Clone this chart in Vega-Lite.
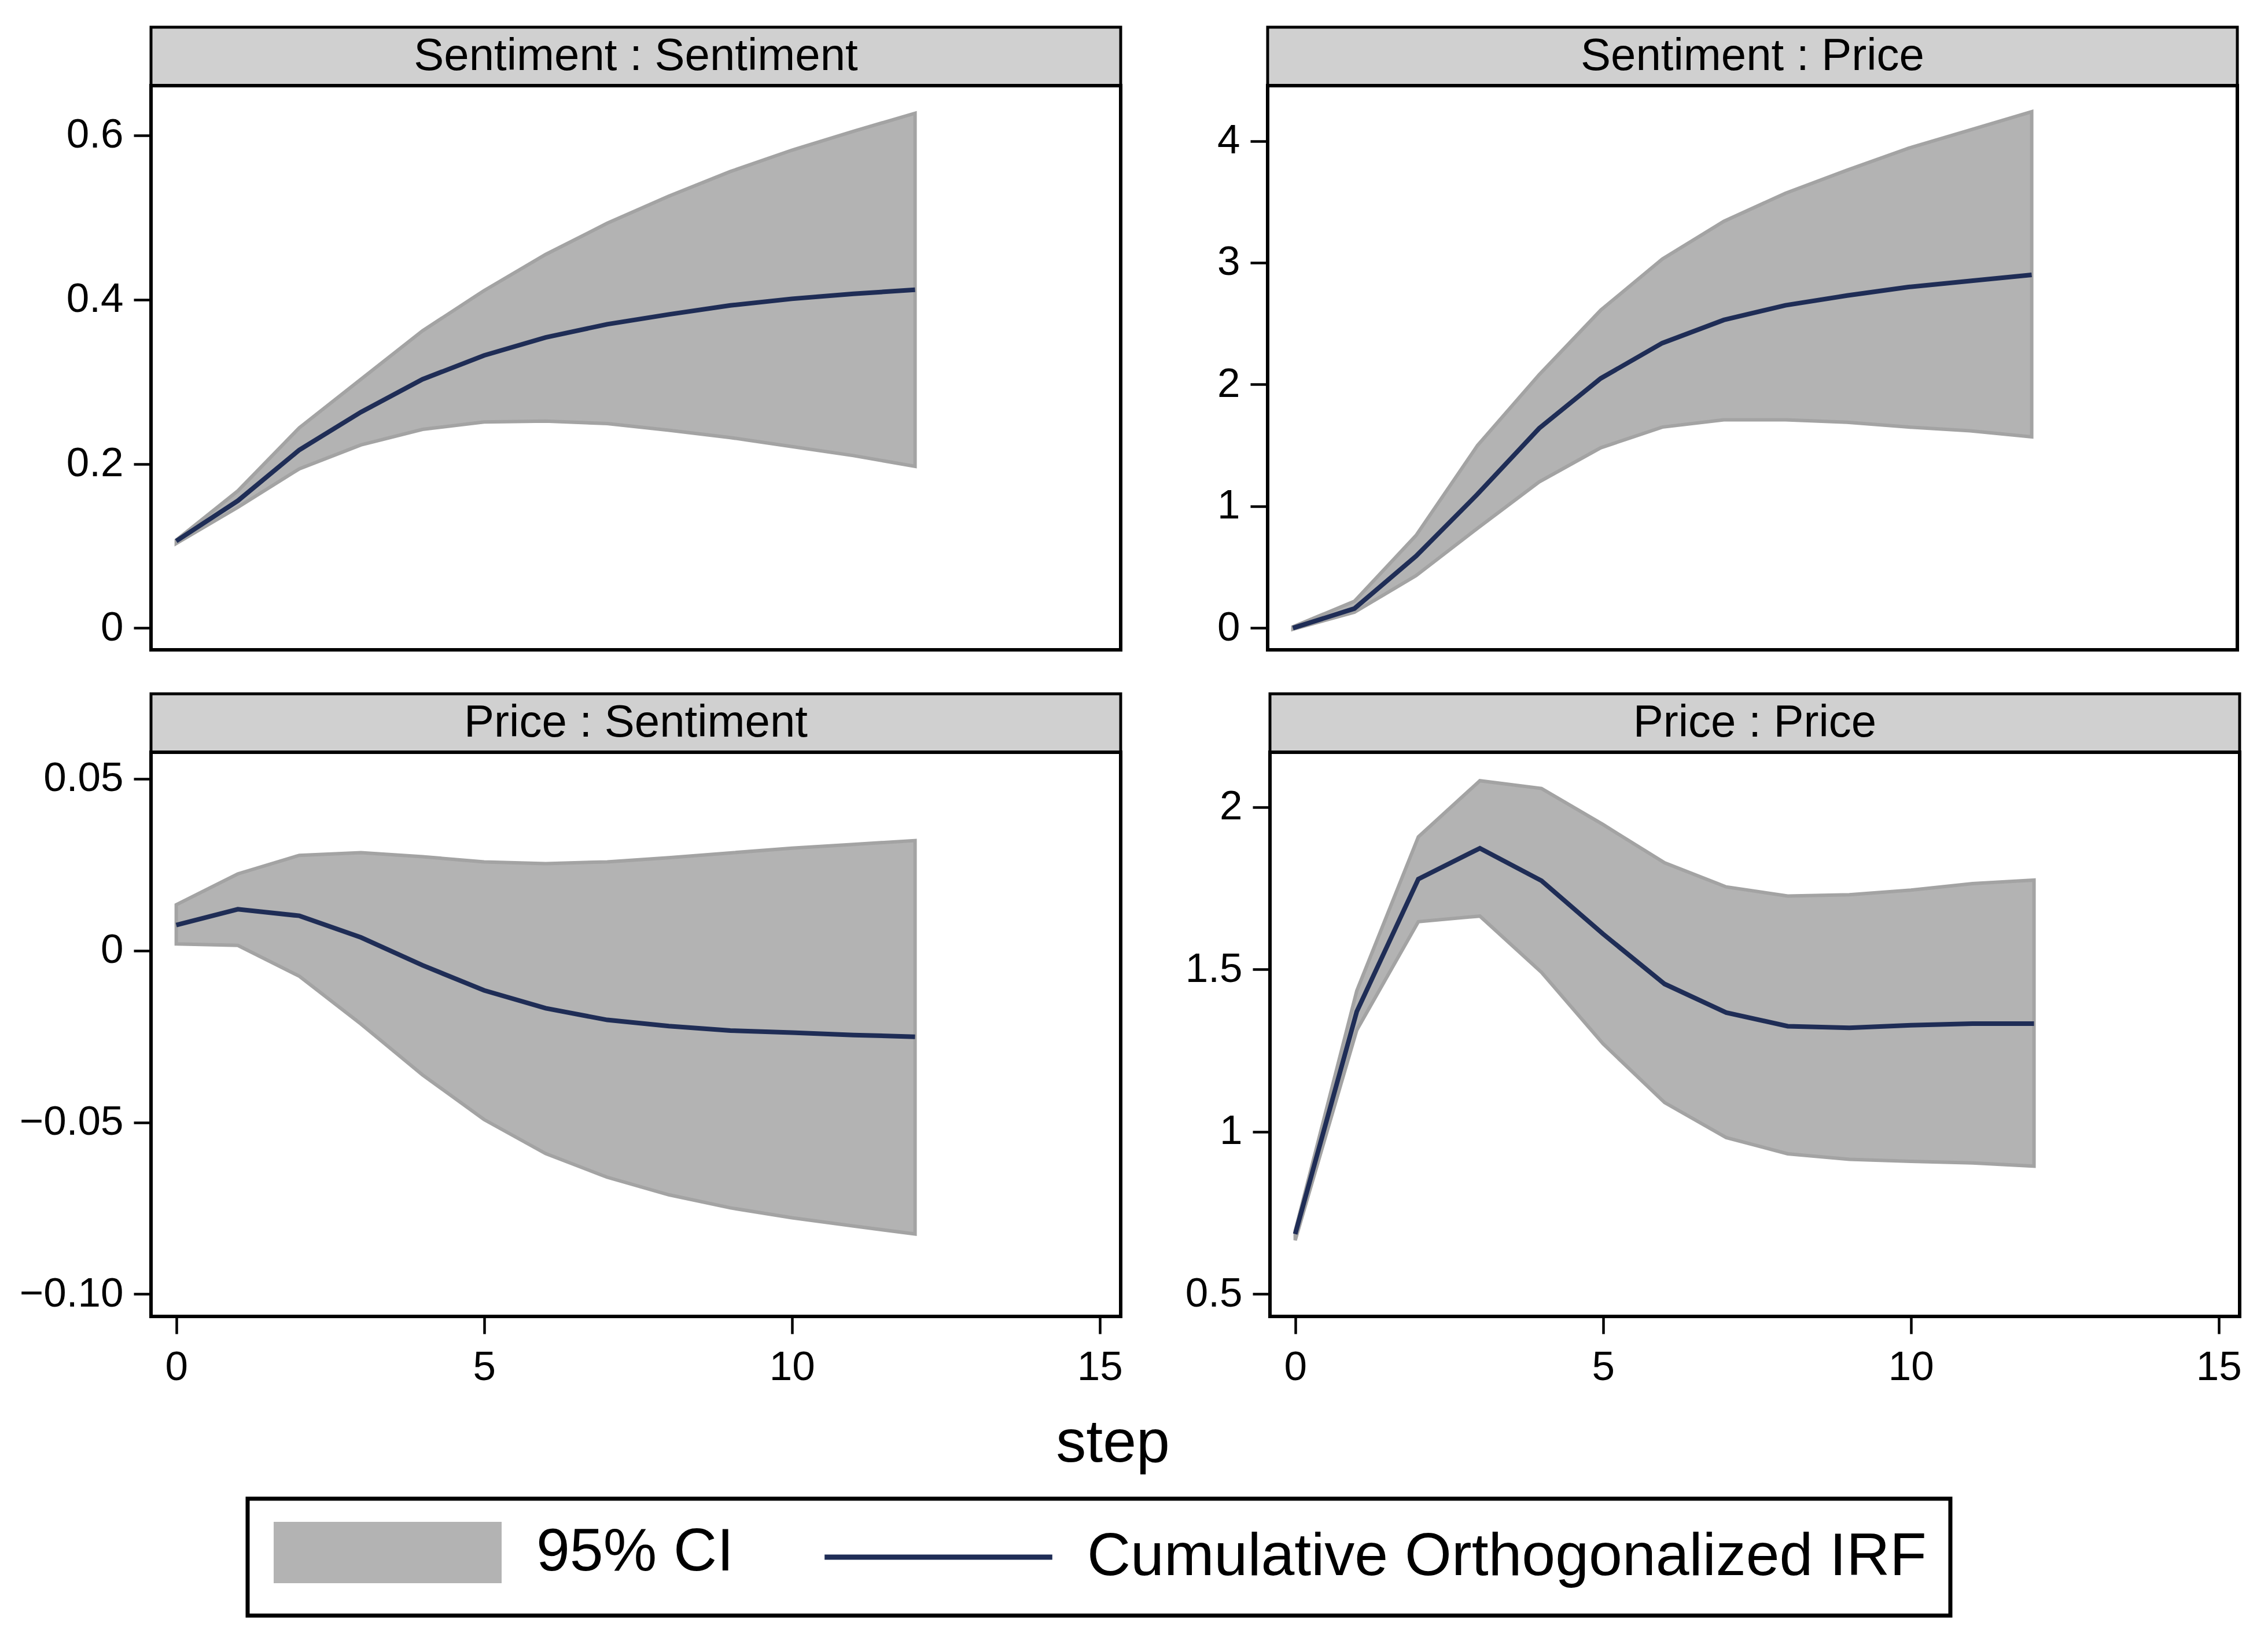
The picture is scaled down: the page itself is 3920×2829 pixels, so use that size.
{
  "$schema": "https://vega.github.io/schema/vega-lite/v6.json",
  "padding": {"left": 26, "top": 44, "right": 10, "bottom": 10},
  "background": "white",
  "datasets": {
    "irf": [
      {"panel": "SS", "step": 0, "irf": 0.106, "lo": 0.103, "hi": 0.107},
      {"panel": "SS", "step": 1, "irf": 0.155, "lo": 0.147, "hi": 0.167},
      {"panel": "SS", "step": 2, "irf": 0.217, "lo": 0.194, "hi": 0.244},
      {"panel": "SS", "step": 3, "irf": 0.263, "lo": 0.223, "hi": 0.303},
      {"panel": "SS", "step": 4, "irf": 0.303, "lo": 0.242, "hi": 0.362},
      {"panel": "SS", "step": 5, "irf": 0.332, "lo": 0.251, "hi": 0.411},
      {"panel": "SS", "step": 6, "irf": 0.354, "lo": 0.252, "hi": 0.455},
      {"panel": "SS", "step": 7, "irf": 0.370, "lo": 0.249, "hi": 0.493},
      {"panel": "SS", "step": 8, "irf": 0.382, "lo": 0.241, "hi": 0.526},
      {"panel": "SS", "step": 9, "irf": 0.393, "lo": 0.232, "hi": 0.556},
      {"panel": "SS", "step": 10, "irf": 0.401, "lo": 0.221, "hi": 0.582},
      {"panel": "SS", "step": 11, "irf": 0.407, "lo": 0.210, "hi": 0.605},
      {"panel": "SS", "step": 12, "irf": 0.412, "lo": 0.197, "hi": 0.627},
      {"panel": "SP", "step": 0, "irf": 0.0, "lo": -0.01, "hi": 0.01},
      {"panel": "SP", "step": 1, "irf": 0.16, "lo": 0.13, "hi": 0.22},
      {"panel": "SP", "step": 2, "irf": 0.59, "lo": 0.43, "hi": 0.76},
      {"panel": "SP", "step": 3, "irf": 1.10, "lo": 0.82, "hi": 1.50},
      {"panel": "SP", "step": 4, "irf": 1.64, "lo": 1.20, "hi": 2.08},
      {"panel": "SP", "step": 5, "irf": 2.05, "lo": 1.48, "hi": 2.61},
      {"panel": "SP", "step": 6, "irf": 2.34, "lo": 1.65, "hi": 3.03},
      {"panel": "SP", "step": 7, "irf": 2.53, "lo": 1.71, "hi": 3.34},
      {"panel": "SP", "step": 8, "irf": 2.65, "lo": 1.71, "hi": 3.57},
      {"panel": "SP", "step": 9, "irf": 2.73, "lo": 1.69, "hi": 3.76},
      {"panel": "SP", "step": 10, "irf": 2.80, "lo": 1.65, "hi": 3.94},
      {"panel": "SP", "step": 11, "irf": 2.85, "lo": 1.62, "hi": 4.09},
      {"panel": "SP", "step": 12, "irf": 2.90, "lo": 1.57, "hi": 4.24},
      {"panel": "PS", "step": 0, "irf": 0.0074, "lo": 0.0019, "hi": 0.0133},
      {"panel": "PS", "step": 1, "irf": 0.0120, "lo": 0.0015, "hi": 0.0223},
      {"panel": "PS", "step": 2, "irf": 0.0101, "lo": -0.0075, "hi": 0.0277},
      {"panel": "PS", "step": 3, "irf": 0.0038, "lo": -0.0214, "hi": 0.0285},
      {"panel": "PS", "step": 4, "irf": -0.0043, "lo": -0.0362, "hi": 0.0273},
      {"panel": "PS", "step": 5, "irf": -0.0116, "lo": -0.0492, "hi": 0.0258},
      {"panel": "PS", "step": 6, "irf": -0.0168, "lo": -0.0591, "hi": 0.0253},
      {"panel": "PS", "step": 7, "irf": -0.0202, "lo": -0.0660, "hi": 0.0258},
      {"panel": "PS", "step": 8, "irf": -0.0220, "lo": -0.0711, "hi": 0.0270},
      {"panel": "PS", "step": 9, "irf": -0.0233, "lo": -0.0749, "hi": 0.0284},
      {"panel": "PS", "step": 10, "irf": -0.0239, "lo": -0.0778, "hi": 0.0298},
      {"panel": "PS", "step": 11, "irf": -0.0246, "lo": -0.0802, "hi": 0.0309},
      {"panel": "PS", "step": 12, "irf": -0.0251, "lo": -0.0825, "hi": 0.0320},
      {"panel": "PP", "step": 0, "irf": 0.685, "lo": 0.666, "hi": 0.695},
      {"panel": "PP", "step": 1, "irf": 1.370, "lo": 1.313, "hi": 1.434},
      {"panel": "PP", "step": 2, "irf": 1.778, "lo": 1.647, "hi": 1.908},
      {"panel": "PP", "step": 3, "irf": 1.873, "lo": 1.664, "hi": 2.081},
      {"panel": "PP", "step": 4, "irf": 1.773, "lo": 1.491, "hi": 2.057},
      {"panel": "PP", "step": 5, "irf": 1.609, "lo": 1.271, "hi": 1.946},
      {"panel": "PP", "step": 6, "irf": 1.455, "lo": 1.090, "hi": 1.828},
      {"panel": "PP", "step": 7, "irf": 1.367, "lo": 0.982, "hi": 1.754},
      {"panel": "PP", "step": 8, "irf": 1.325, "lo": 0.932, "hi": 1.726},
      {"panel": "PP", "step": 9, "irf": 1.320, "lo": 0.915, "hi": 1.730},
      {"panel": "PP", "step": 10, "irf": 1.328, "lo": 0.909, "hi": 1.744},
      {"panel": "PP", "step": 11, "irf": 1.333, "lo": 0.904, "hi": 1.764},
      {"panel": "PP", "step": 12, "irf": 1.333, "lo": 0.894, "hi": 1.775}
    ]
  },
  "vconcat": [
    {
      "hconcat": [
        {
          "vconcat": [
            {
              "width": 1676, "height": 101,
              "view": {"fill": "#d0d0d0", "stroke": "black", "strokeWidth": 5},
              "data": {"values": [{"label": "Sentiment : Sentiment"}]},
              "mark": {"type": "text", "fontSize": 78, "font": "Liberation Sans", "color": "black", "baseline": "middle", "align": "center"},
              "encoding": {"text": {"field": "label", "type": "nominal"}}
            },
            {
              "width": 1676, "height": 975,
              "data": {"name": "irf"},
              "transform": [{"filter": "datum.panel === 'SS'"}],
              "layer": [
                {
                  "mark": {"type": "area", "stroke": "#a3a3a3", "strokeWidth": 6, "opacity": 1},
                  "encoding": {
                    "x": {"field": "step", "type": "quantitative", "scale": {"domain": [-0.41, 15.34], "nice": false, "zero": false}, "axis": null},
                    "y": {"field": "lo", "type": "quantitative", "scale": {"domain": [-0.0265, 0.6606], "nice": false, "zero": false}, "axis": {"title": null, "values": [0, 0.2, 0.4, 0.6], "labelExpr": "datum.value == 0 ? '0' : format(datum.value, '.1f')"}},
                    "y2": {"field": "hi"},
                    "color": {"datum": "95% CI", "type": "nominal", "scale": {"domain": ["95% CI", "Cumulative Orthogonalized IRF"], "range": ["#b3b3b3", "#1f2d56"]},
                      "legend": {"title": null, "orient": "none", "legendX": 167, "legendY": 2543, "direction": "horizontal", "padding": 41, "strokeColor": "black", "fillColor": "white", "symbolSize": 9216, "symbolOffset": 149, "labelOffset": 205, "columnPadding": 138, "labelFont": "Liberation Sans", "labelFontSize": 104, "labelColor": "black", "labelLimit": 3000,
                        "encode": {"legend": {"update": {"strokeWidth": {"value": 7}}}, "symbols": {"update": {"shape": {"signal": "datum.value === '95% CI' ? 'M-4,-1H4V1H-4Z' : 'M-4.1,0H4.1'"}, "fill": {"signal": "datum.value === '95% CI' ? '#b3b3b3' : 'transparent'"}, "stroke": {"signal": "datum.value === '95% CI' ? '#a3a3a3' : '#1f2d56'"}, "strokeWidth": {"signal": "datum.value === '95% CI' ? 10 : 9"}, "opacity": {"value": 1}, "fillOpacity": {"value": 1}, "strokeOpacity": {"value": 1}}}}}
                    }
                  }
                },
                {
                  "mark": {"type": "line", "strokeWidth": 8, "strokeCap": "butt"},
                  "encoding": {
                    "x": {"field": "step", "type": "quantitative"},
                    "y": {"field": "irf", "type": "quantitative"},
                    "color": {"datum": "Cumulative Orthogonalized IRF", "type": "nominal", "scale": {"domain": ["95% CI", "Cumulative Orthogonalized IRF"], "range": ["#b3b3b3", "#1f2d56"]},
                      "legend": {"title": null, "orient": "none", "legendX": 167, "legendY": 2543, "direction": "horizontal", "padding": 41, "strokeColor": "black", "fillColor": "white", "symbolSize": 9216, "symbolOffset": 149, "labelOffset": 205, "columnPadding": 138, "labelFont": "Liberation Sans", "labelFontSize": 104, "labelColor": "black", "labelLimit": 3000,
                        "encode": {"legend": {"update": {"strokeWidth": {"value": 7}}}, "symbols": {"update": {"shape": {"signal": "datum.value === '95% CI' ? 'M-4,-1H4V1H-4Z' : 'M-4.1,0H4.1'"}, "fill": {"signal": "datum.value === '95% CI' ? '#b3b3b3' : 'transparent'"}, "stroke": {"signal": "datum.value === '95% CI' ? '#a3a3a3' : '#1f2d56'"}, "strokeWidth": {"signal": "datum.value === '95% CI' ? 10 : 9"}, "opacity": {"value": 1}, "fillOpacity": {"value": 1}, "strokeOpacity": {"value": 1}}}}}
                    }
                  }
                }
              ]
            }
          ],
          "spacing": 0,
          "bounds": "flush"
        },
        {
          "vconcat": [
            {
              "width": 1676, "height": 101,
              "view": {"fill": "#d0d0d0", "stroke": "black", "strokeWidth": 5},
              "data": {"values": [{"label": "Sentiment : Price"}]},
              "mark": {"type": "text", "fontSize": 78, "font": "Liberation Sans", "color": "black", "baseline": "middle", "align": "center"},
              "encoding": {"text": {"field": "label", "type": "nominal"}}
            },
            {
              "width": 1676, "height": 975,
              "data": {"name": "irf"},
              "transform": [{"filter": "datum.panel === 'SP'"}],
              "layer": [
                {
                  "mark": {"type": "area", "stroke": "#a3a3a3", "strokeWidth": 6, "opacity": 1},
                  "encoding": {
                    "x": {"field": "step", "type": "quantitative", "scale": {"domain": [-0.41, 15.34], "nice": false, "zero": false}, "axis": null},
                    "y": {"field": "lo", "type": "quantitative", "scale": {"domain": [-0.179, 4.454], "nice": false, "zero": false}, "axis": {"title": null, "values": [0, 1, 2, 3, 4], "format": "d"}},
                    "y2": {"field": "hi"},
                    "color": {"datum": "95% CI", "type": "nominal", "scale": {"domain": ["95% CI", "Cumulative Orthogonalized IRF"], "range": ["#b3b3b3", "#1f2d56"]},
                      "legend": {"title": null, "orient": "none", "legendX": 167, "legendY": 2543, "direction": "horizontal", "padding": 41, "strokeColor": "black", "fillColor": "white", "symbolSize": 9216, "symbolOffset": 149, "labelOffset": 205, "columnPadding": 138, "labelFont": "Liberation Sans", "labelFontSize": 104, "labelColor": "black", "labelLimit": 3000,
                        "encode": {"legend": {"update": {"strokeWidth": {"value": 7}}}, "symbols": {"update": {"shape": {"signal": "datum.value === '95% CI' ? 'M-4,-1H4V1H-4Z' : 'M-4.1,0H4.1'"}, "fill": {"signal": "datum.value === '95% CI' ? '#b3b3b3' : 'transparent'"}, "stroke": {"signal": "datum.value === '95% CI' ? '#a3a3a3' : '#1f2d56'"}, "strokeWidth": {"signal": "datum.value === '95% CI' ? 10 : 9"}, "opacity": {"value": 1}, "fillOpacity": {"value": 1}, "strokeOpacity": {"value": 1}}}}}
                    }
                  }
                },
                {
                  "mark": {"type": "line", "strokeWidth": 8, "strokeCap": "butt"},
                  "encoding": {
                    "x": {"field": "step", "type": "quantitative"},
                    "y": {"field": "irf", "type": "quantitative"},
                    "color": {"datum": "Cumulative Orthogonalized IRF", "type": "nominal", "scale": {"domain": ["95% CI", "Cumulative Orthogonalized IRF"], "range": ["#b3b3b3", "#1f2d56"]},
                      "legend": {"title": null, "orient": "none", "legendX": 167, "legendY": 2543, "direction": "horizontal", "padding": 41, "strokeColor": "black", "fillColor": "white", "symbolSize": 9216, "symbolOffset": 149, "labelOffset": 205, "columnPadding": 138, "labelFont": "Liberation Sans", "labelFontSize": 104, "labelColor": "black", "labelLimit": 3000,
                        "encode": {"legend": {"update": {"strokeWidth": {"value": 7}}}, "symbols": {"update": {"shape": {"signal": "datum.value === '95% CI' ? 'M-4,-1H4V1H-4Z' : 'M-4.1,0H4.1'"}, "fill": {"signal": "datum.value === '95% CI' ? '#b3b3b3' : 'transparent'"}, "stroke": {"signal": "datum.value === '95% CI' ? '#a3a3a3' : '#1f2d56'"}, "strokeWidth": {"signal": "datum.value === '95% CI' ? 10 : 9"}, "opacity": {"value": 1}, "fillOpacity": {"value": 1}, "strokeOpacity": {"value": 1}}}}}
                    }
                  }
                }
              ]
            }
          ],
          "spacing": 0,
          "bounds": "flush"
        }
      ],
      "spacing": 16
    },
    {
      "title": {"text": "step", "orient": "bottom", "anchor": "middle", "fontSize": 104, "font": "Liberation Sans", "fontWeight": "normal", "color": "black", "offset": 43, "dx": -28},
      "hconcat": [
        {
          "vconcat": [
            {
              "width": 1676, "height": 101,
              "view": {"fill": "#d0d0d0", "stroke": "black", "strokeWidth": 5},
              "data": {"values": [{"label": "Price : Sentiment"}]},
              "mark": {"type": "text", "fontSize": 78, "font": "Liberation Sans", "color": "black", "baseline": "middle", "align": "center"},
              "encoding": {"text": {"field": "label", "type": "nominal"}}
            },
            {
              "width": 1676, "height": 975,
              "data": {"name": "irf"},
              "transform": [{"filter": "datum.panel === 'PS'"}],
              "layer": [
                {
                  "mark": {"type": "area", "stroke": "#a3a3a3", "strokeWidth": 6, "opacity": 1},
                  "encoding": {
                    "x": {"field": "step", "type": "quantitative", "scale": {"domain": [-0.41, 15.34], "nice": false, "zero": false}, "axis": {"title": null, "values": [0, 5, 10, 15], "format": "d", "labelPadding": 23, "labelFlush": false}},
                    "y": {"field": "lo", "type": "quantitative", "scale": {"domain": [-0.1065, 0.0577], "nice": false, "zero": false}, "axis": {"title": null, "values": [-0.1, -0.05, 0, 0.05], "labelExpr": "datum.value == 0 ? '0' : format(datum.value, '.2f')"}},
                    "y2": {"field": "hi"},
                    "color": {"datum": "95% CI", "type": "nominal", "scale": {"domain": ["95% CI", "Cumulative Orthogonalized IRF"], "range": ["#b3b3b3", "#1f2d56"]},
                      "legend": {"title": null, "orient": "none", "legendX": 167, "legendY": 2543, "direction": "horizontal", "padding": 41, "strokeColor": "black", "fillColor": "white", "symbolSize": 9216, "symbolOffset": 149, "labelOffset": 205, "columnPadding": 138, "labelFont": "Liberation Sans", "labelFontSize": 104, "labelColor": "black", "labelLimit": 3000,
                        "encode": {"legend": {"update": {"strokeWidth": {"value": 7}}}, "symbols": {"update": {"shape": {"signal": "datum.value === '95% CI' ? 'M-4,-1H4V1H-4Z' : 'M-4.1,0H4.1'"}, "fill": {"signal": "datum.value === '95% CI' ? '#b3b3b3' : 'transparent'"}, "stroke": {"signal": "datum.value === '95% CI' ? '#a3a3a3' : '#1f2d56'"}, "strokeWidth": {"signal": "datum.value === '95% CI' ? 10 : 9"}, "opacity": {"value": 1}, "fillOpacity": {"value": 1}, "strokeOpacity": {"value": 1}}}}}
                    }
                  }
                },
                {
                  "mark": {"type": "line", "strokeWidth": 8, "strokeCap": "butt"},
                  "encoding": {
                    "x": {"field": "step", "type": "quantitative"},
                    "y": {"field": "irf", "type": "quantitative"},
                    "color": {"datum": "Cumulative Orthogonalized IRF", "type": "nominal", "scale": {"domain": ["95% CI", "Cumulative Orthogonalized IRF"], "range": ["#b3b3b3", "#1f2d56"]},
                      "legend": {"title": null, "orient": "none", "legendX": 167, "legendY": 2543, "direction": "horizontal", "padding": 41, "strokeColor": "black", "fillColor": "white", "symbolSize": 9216, "symbolOffset": 149, "labelOffset": 205, "columnPadding": 138, "labelFont": "Liberation Sans", "labelFontSize": 104, "labelColor": "black", "labelLimit": 3000,
                        "encode": {"legend": {"update": {"strokeWidth": {"value": 7}}}, "symbols": {"update": {"shape": {"signal": "datum.value === '95% CI' ? 'M-4,-1H4V1H-4Z' : 'M-4.1,0H4.1'"}, "fill": {"signal": "datum.value === '95% CI' ? '#b3b3b3' : 'transparent'"}, "stroke": {"signal": "datum.value === '95% CI' ? '#a3a3a3' : '#1f2d56'"}, "strokeWidth": {"signal": "datum.value === '95% CI' ? 10 : 9"}, "opacity": {"value": 1}, "fillOpacity": {"value": 1}, "strokeOpacity": {"value": 1}}}}}
                    }
                  }
                }
              ]
            }
          ],
          "spacing": 0,
          "bounds": "flush"
        },
        {
          "vconcat": [
            {
              "width": 1676, "height": 101,
              "view": {"fill": "#d0d0d0", "stroke": "black", "strokeWidth": 5},
              "data": {"values": [{"label": "Price : Price"}]},
              "mark": {"type": "text", "fontSize": 78, "font": "Liberation Sans", "color": "black", "baseline": "middle", "align": "center"},
              "encoding": {"text": {"field": "label", "type": "nominal"}}
            },
            {
              "width": 1676, "height": 975,
              "data": {"name": "irf"},
              "transform": [{"filter": "datum.panel === 'PP'"}],
              "layer": [
                {
                  "mark": {"type": "area", "stroke": "#a3a3a3", "strokeWidth": 6, "opacity": 1},
                  "encoding": {
                    "x": {"field": "step", "type": "quantitative", "scale": {"domain": [-0.41, 15.34], "nice": false, "zero": false}, "axis": {"title": null, "values": [0, 5, 10, 15], "format": "d", "labelPadding": 23, "labelFlush": false}},
                    "y": {"field": "lo", "type": "quantitative", "scale": {"domain": [0.4313, 2.1686], "nice": false, "zero": false}, "axis": {"title": null, "values": [0.5, 1, 1.5, 2], "labelExpr": "format(datum.value, '~g')"}},
                    "y2": {"field": "hi"},
                    "color": {"datum": "95% CI", "type": "nominal", "scale": {"domain": ["95% CI", "Cumulative Orthogonalized IRF"], "range": ["#b3b3b3", "#1f2d56"]},
                      "legend": {"title": null, "orient": "none", "legendX": 167, "legendY": 2543, "direction": "horizontal", "padding": 41, "strokeColor": "black", "fillColor": "white", "symbolSize": 9216, "symbolOffset": 149, "labelOffset": 205, "columnPadding": 138, "labelFont": "Liberation Sans", "labelFontSize": 104, "labelColor": "black", "labelLimit": 3000,
                        "encode": {"legend": {"update": {"strokeWidth": {"value": 7}}}, "symbols": {"update": {"shape": {"signal": "datum.value === '95% CI' ? 'M-4,-1H4V1H-4Z' : 'M-4.1,0H4.1'"}, "fill": {"signal": "datum.value === '95% CI' ? '#b3b3b3' : 'transparent'"}, "stroke": {"signal": "datum.value === '95% CI' ? '#a3a3a3' : '#1f2d56'"}, "strokeWidth": {"signal": "datum.value === '95% CI' ? 10 : 9"}, "opacity": {"value": 1}, "fillOpacity": {"value": 1}, "strokeOpacity": {"value": 1}}}}}
                    }
                  }
                },
                {
                  "mark": {"type": "line", "strokeWidth": 8, "strokeCap": "butt"},
                  "encoding": {
                    "x": {"field": "step", "type": "quantitative"},
                    "y": {"field": "irf", "type": "quantitative"},
                    "color": {"datum": "Cumulative Orthogonalized IRF", "type": "nominal", "scale": {"domain": ["95% CI", "Cumulative Orthogonalized IRF"], "range": ["#b3b3b3", "#1f2d56"]},
                      "legend": {"title": null, "orient": "none", "legendX": 167, "legendY": 2543, "direction": "horizontal", "padding": 41, "strokeColor": "black", "fillColor": "white", "symbolSize": 9216, "symbolOffset": 149, "labelOffset": 205, "columnPadding": 138, "labelFont": "Liberation Sans", "labelFontSize": 104, "labelColor": "black", "labelLimit": 3000,
                        "encode": {"legend": {"update": {"strokeWidth": {"value": 7}}}, "symbols": {"update": {"shape": {"signal": "datum.value === '95% CI' ? 'M-4,-1H4V1H-4Z' : 'M-4.1,0H4.1'"}, "fill": {"signal": "datum.value === '95% CI' ? '#b3b3b3' : 'transparent'"}, "stroke": {"signal": "datum.value === '95% CI' ? '#a3a3a3' : '#1f2d56'"}, "strokeWidth": {"signal": "datum.value === '95% CI' ? 10 : 9"}, "opacity": {"value": 1}, "fillOpacity": {"value": 1}, "strokeOpacity": {"value": 1}}}}}
                    }
                  }
                }
              ]
            }
          ],
          "spacing": 0,
          "bounds": "flush"
        }
      ],
      "spacing": 16
    }
  ],
  "spacing": 70,
  "config": {
    "font": "Liberation Sans",
    "view": {"stroke": "black", "strokeWidth": 6},
    "axis": {"grid": false, "domain": false, "tickColor": "black", "tickWidth": 4.5, "tickSize": 30, "labelFont": "Liberation Sans", "labelFontSize": 71, "labelColor": "black", "labelPadding": 18, "labelOverlap": false},
    "axisY": {"minExtent": 232},
    "title": {"font": "Liberation Sans", "color": "black"}
  }
}
